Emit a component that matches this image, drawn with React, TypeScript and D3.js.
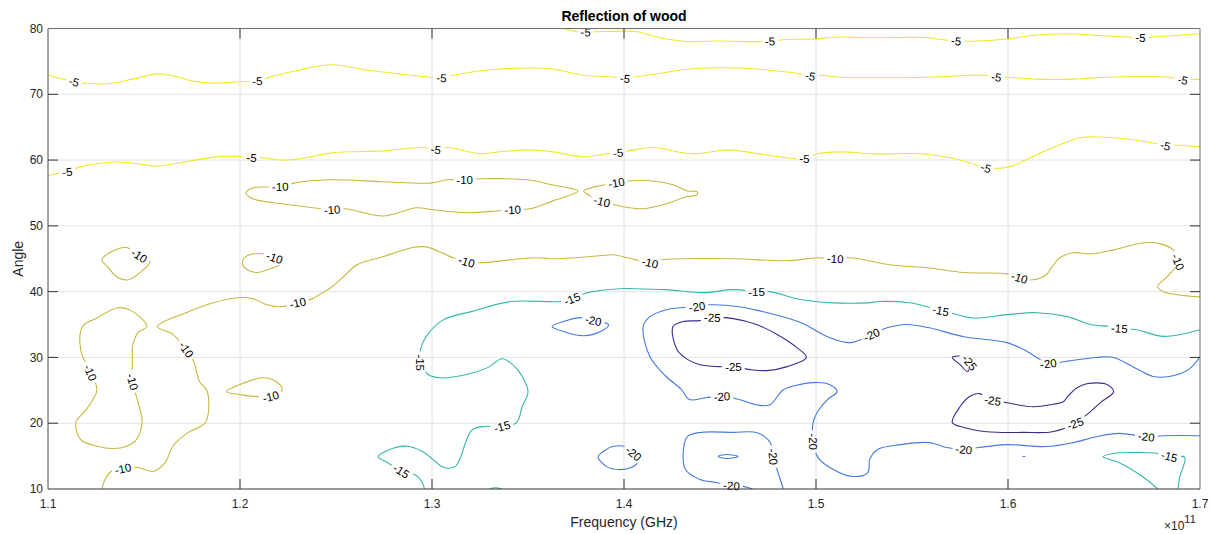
import React from "react";
import * as d3 from "d3";

type Pt = [number, number]; // [frequency in GHz, angle in degrees]

// Axis ticks
const freqTicks = [110, 120, 130, 140, 150, 160, 170];
const angleTicks = [10, 20, 30, 40, 50, 60, 70, 80];

// Contour levels (dB) and their colours
const levels = [-25, -20, -15, -10, -5];
const levelColors = ["#3d2a92", "#4479e0", "#33b8a6", "#c6b83c", "#efe82a"];

// ---- -5 dB isolines ----
const m5Top: Pt[] = [
  [136.8, 80], [137.6, 79.5], [138.0, 79.45], [138.6, 79.5], [140.05, 79.6], [140.7, 79.5], [141.7, 78.7],
  [143.3, 78.0], [144.8, 78.1], [146.9, 78.0], [147.6, 78.05], [148.3, 78.3], [149.8, 78.4], [151.25, 78.7],
  [152.7, 78.6], [155.9, 78.6], [156.3, 78.4], [157.3, 78.1], [158.4, 78.1], [159.95, 78.4], [161.15, 78.9],
  [163.2, 79.2], [164.4, 79.0], [166.2, 78.7], [166.9, 78.6], [167.55, 78.7], [170, 79.2],
];
const m5Mid: Pt[] = [
  [110, 72.9], [110.8, 72.3], [111.35, 71.9], [111.9, 71.7], [113.1, 71.6], [114.4, 72.3], [115.7, 73.1],
  [116.5, 72.8], [117.55, 72.0], [118.6, 71.7], [120.0, 71.9], [120.9, 72.0], [121.4, 72.5], [123.1, 73.7],
  [124.8, 74.5], [126.6, 73.7], [128.3, 73.1], [129.9, 72.6], [130.5, 72.5], [131.1, 72.9], [132.9, 73.7],
  [135.3, 74.0], [136.3, 73.85], [137.9, 72.9], [139.5, 72.6], [140.05, 72.4], [140.5, 72.6], [141.9, 73.2],
  [143.4, 73.85], [146.0, 74.0], [147.45, 73.7], [149.0, 73.2], [149.7, 72.8], [150.2, 72.9], [151.25, 72.6],
  [155.9, 72.6], [158.7, 72.9], [159.4, 72.6], [159.95, 72.6], [161.5, 72.3], [163.4, 72.3], [164.4, 72.5],
  [168.4, 72.6], [169.1, 72.2], [170, 72.3],
];
const m5Low: Pt[] = [
  [110, 57.6], [110.7, 58.1], [111.0, 58.2], [111.7, 59.0], [113.75, 59.7], [115.7, 59.1], [116.9, 59.6],
  [118.3, 60.3], [119.6, 60.6], [120.6, 60.35], [121.2, 60.35], [122.2, 60.0], [123.1, 60.2], [124.8, 61.1],
  [127.45, 61.4], [129.5, 61.9], [130.2, 61.6], [130.8, 61.9], [132.5, 60.95], [133.5, 61.25], [134.95, 61.55],
  [136.3, 61.25], [137.9, 60.5], [139.1, 60.95], [139.7, 61.1], [140.5, 61.55], [141.5, 61.9], [143.6, 60.95],
  [145.4, 61.55], [146.7, 61.1], [148.5, 60.35], [149.4, 60.2], [150.05, 60.95], [151.25, 61.25], [153.0, 60.95],
  [155.4, 60.95], [157.0, 60.35], [158.0, 59.6], [158.85, 58.8], [160.1, 59.0], [161.7, 61.1], [163.75, 63.4],
  [164.6, 63.5], [166.5, 63.1], [167.55, 62.6], [168.2, 62.2], [168.8, 62.3], [170, 62.0],
];
const m5Labels: Pt[] = [
  [138.0, 79.45], [147.6, 78.05], [157.3, 78.1], [166.9, 78.6],
  [111.35, 71.9], [120.9, 72.0], [130.5, 72.5], [140.05, 72.4], [149.7, 72.8], [159.4, 72.6], [169.1, 72.2],
  [111.0, 58.2], [120.6, 60.35], [130.2, 61.6], [139.7, 61.1], [149.4, 60.2], [158.85, 58.8], [168.2, 62.2],
];

// ---- -10 dB isolines ----
const m10LensWest: Pt[] = [
  [120.3, 55.0], [120.7, 55.8], [121.4, 55.9], [122.1, 55.95], [122.8, 56.5], [124.7, 57.0], [127.45, 56.7],
  [129.9, 56.5], [130.8, 57.0], [131.7, 57.0], [132.5, 57.15], [134.95, 57.0], [136.3, 56.2], [137.6, 55.3],
  [136.3, 53.8], [135.1, 52.6], [134.2, 52.45], [133.5, 52.3], [131.8, 52.0], [130.05, 52.45], [129.2, 52.75],
  [127.45, 51.5], [125.5, 52.6], [124.8, 52.45], [123.8, 52.75], [122.2, 53.35], [120.7, 54.1],
];
const m10LensEast: Pt[] = [
  [137.9, 55.3], [138.3, 55.8], [138.75, 56.1], [139.6, 56.55], [140.4, 56.85], [141.35, 56.85], [142.55, 56.25],
  [143.3, 55.3], [143.8, 55.2], [143.8, 54.7], [143.2, 54.4], [142.2, 53.35], [141.0, 52.6], [139.95, 52.9],
  [139.3, 53.35], [138.85, 53.7], [138.2, 54.6],
];
const m10Main: Pt[] = [
  [112.8, 10], [112.97, 11.45], [113.3, 12.7], [113.9, 13.1], [114.6, 13.3], [115.5, 12.7], [116.1, 14.0],
  [116.5, 16.5], [117.3, 18.6], [118.2, 20.1], [118.3, 24.8], [117.9, 26.3], [117.55, 29.7], [117.2, 31.2],
  [116.5, 33.5], [115.7, 34.7], [117.2, 36.8], [118.6, 38.3], [120.0, 39.1], [120.7, 38.9], [121.4, 38.0],
  [122.1, 37.7], [123.0, 38.3], [123.75, 38.9], [124.3, 39.85], [124.8, 40.75], [125.4, 42.3], [126.1, 44.1],
  [127.45, 45.3], [129.0, 46.7], [129.7, 46.8], [130.6, 45.8], [131.1, 45.15], [131.8, 44.55], [132.5, 44.4],
  [135.3, 45.15], [136.5, 45.0], [138.75, 45.45], [139.4, 45.6], [140.2, 45.15], [141.35, 44.4], [142.0, 44.85],
  [145.7, 45.0], [148.5, 44.7], [150.05, 45.15], [151.0, 45.0], [151.8, 45.15], [153.85, 44.1], [155.9, 43.6],
  [157.7, 42.9], [159.95, 42.7], [160.6, 42.1], [161.3, 41.8], [162.0, 42.6], [162.3, 43.8], [162.7, 45.15],
  [163.4, 45.9], [164.4, 45.75], [165.5, 46.35], [167.0, 47.4], [167.9, 47.3], [168.6, 46.35], [168.85, 44.5],
  [168.4, 42.6], [167.8, 40.75], [168.1, 40.0], [170, 39.2],
];
const m10IsleA: Pt[] = [
  [112.8, 44.85], [113.2, 45.9], [114.1, 46.7], [114.75, 45.45], [115.3, 44.55], [114.8, 42.9], [114.2, 41.8],
  [113.65, 42.1], [113.1, 43.8],
];
const m10IsleB: Pt[] = [
  [120.15, 44.85], [120.5, 45.6], [121.2, 45.75], [121.8, 45.15], [122.2, 44.4], [121.4, 43.3], [120.9, 42.9],
  [120.4, 43.3], [120.15, 44.0],
];
const m10IsleC: Pt[] = [
  [111.8, 34.7], [111.7, 31.2], [112.2, 27.7], [112.55, 25.1], [112.0, 22.1], [111.45, 20.1], [111.7, 17.5],
  [112.55, 16.5], [113.4, 16.15], [114.1, 16.5], [114.6, 17.5], [114.9, 20.1], [114.7, 23.1], [114.4, 26.3],
  [114.4, 29.7], [114.4, 31.6], [114.7, 33.8], [115.15, 34.7], [114.4, 37.0], [113.65, 37.55], [112.55, 36.0],
];
const m10IsleD: Pt[] = [
  [119.3, 24.8], [120.0, 25.9], [121.2, 26.9], [121.9, 26.3], [122.2, 25.1], [122.0, 24.35], [121.6, 24.05],
  [120.9, 24.05], [120.0, 24.35],
];
const m10Labels: Pt[] = [
  [122.1, 55.95], [131.7, 57.0], [124.8, 52.45], [134.2, 52.45], [139.6, 56.55], [138.85, 53.7],
  [113.9, 13.1], [117.2, 31.2], [123.0, 38.3], [131.8, 44.55], [141.35, 44.4], [151.0, 45.0], [160.6, 42.1],
  [168.85, 44.5], [114.75, 45.45], [121.8, 45.15], [112.2, 27.7], [114.4, 26.3], [121.6, 24.05],
];

// ---- -15 dB isolines ----
const m15Main: Pt[] = [
  [170, 34.2], [168.1, 33.2], [166.7, 34.2], [165.8, 34.4], [165.3, 34.7], [164.3, 35.0], [163.1, 36.2],
  [161.5, 36.8], [159.95, 36.5], [158.2, 36.0], [157.0, 36.8], [156.5, 37.1], [155.8, 37.7], [154.9, 38.3],
  [153.3, 38.5], [152.7, 38.3], [150.9, 38.3], [149.2, 38.8], [147.6, 40.0], [146.9, 40.0], [145.7, 40.3],
  [144.1, 39.85], [142.2, 40.3], [140.5, 40.45], [139.8, 40.45], [138.1, 39.85], [137.3, 38.9], [136.7, 38.5],
  [134.1, 38.5], [132.1, 37.0], [130.6, 35.75], [129.7, 33.2], [129.4, 31.2], [129.4, 29.2], [129.8, 27.4],
  [130.4, 26.9], [131.8, 27.4], [132.9, 28.45], [133.65, 29.8], [134.2, 28.9], [134.7, 27.1], [135.0, 24.8],
  [134.7, 22.5], [134.4, 20.1], [133.65, 19.5], [132.7, 19.5], [132.1, 19.0], [131.8, 17.5], [131.5, 14.9],
  [131.2, 13.4], [130.6, 13.3], [130.05, 14.5], [129.5, 15.7], [128.7, 16.5], [127.8, 16.0], [127.2, 14.9],
  [127.7, 14.0], [128.4, 12.7], [129.1, 12.2], [129.5, 11.0], [129.6, 10],
];
const m15Corner: Pt[] = [
  [167.8, 10], [167.0, 11.9], [165.8, 14.0], [164.95, 14.9], [165.5, 15.4], [166.5, 15.55], [167.8, 15.4],
  [168.4, 14.95], [169.2, 14.8], [168.95, 11.9], [168.85, 10],
];
const m15Edge: Pt[] = [[133.0, 10], [133.3, 10.2], [133.65, 10]];
const m15Labels: Pt[] = [
  [165.8, 34.4], [156.5, 37.1], [146.9, 40.0], [137.3, 38.9], [129.4, 29.2], [133.65, 19.5], [128.4, 12.7],
  [168.4, 14.95],
];

// ---- -20 dB isolines ----
const m20IsleA: Pt[] = [
  [136.25, 34.7], [137.0, 35.6], [137.7, 36.05], [138.4, 35.6], [139.2, 35.0], [138.75, 33.9], [137.9, 33.3],
  [137.0, 33.8],
];
const m20IsleB: Pt[] = [
  [138.65, 14.9], [139.0, 15.85], [139.4, 16.45], [140.05, 16.45], [140.5, 15.4], [140.7, 14.0], [140.4, 13.3],
  [139.8, 12.95], [139.1, 13.4],
];
const m20Main: Pt[] = [
  [170, 30.1], [169.4, 28.15], [168.4, 27.1], [167.55, 27.1], [166.5, 28.6], [165.5, 30.0], [164.6, 30.0],
  [162.9, 29.35], [162.1, 29.05], [161.5, 30.0], [161.0, 30.9], [159.95, 32.25], [157.7, 33.15], [155.9, 34.5],
  [154.7, 35.0], [153.7, 34.5], [152.9, 33.45], [151.8, 32.25], [150.6, 33.15], [149.2, 35.3], [147.45, 36.8],
  [146.0, 37.7], [144.5, 38.0], [143.8, 37.7], [142.9, 37.55], [142.2, 37.25], [141.35, 36.2], [141.0, 34.7],
  [141.35, 30.1], [142.2, 27.1], [143.0, 25.1], [143.4, 23.6], [144.3, 23.9], [145.1, 24.05], [146.0, 23.6],
  [146.9, 22.8], [147.6, 22.8], [148.3, 25.1], [149.2, 25.9], [150.05, 26.2], [150.7, 25.9], [151.1, 24.8],
  [150.6, 23.6], [150.05, 21.6], [149.85, 20.1], [149.85, 17.2], [150.1, 14.8], [150.9, 12.95], [151.9, 11.9],
  [152.7, 12.5], [152.8, 14.5], [153.2, 16.0], [154.4, 16.75], [155.9, 17.05], [156.8, 16.3], [157.7, 16.0],
  [158.5, 16.3], [159.95, 16.75], [162.0, 16.45], [163.4, 17.05], [164.6, 17.95], [165.8, 18.45], [167.2, 17.95],
  [168.1, 18.1], [170, 18.1],
];
const m20Basin: Pt[] = [
  [146.7, 10], [146.2, 10.4], [145.6, 10.5], [144.8, 11.0], [143.96, 11.45], [143.2, 12.96], [143.1, 16.0],
  [143.3, 17.97], [143.96, 18.6], [145.7, 18.6], [146.9, 18.6], [147.5, 17.5], [147.7, 16.5], [147.76, 14.9],
  [147.97, 12.96], [148.3, 10],
];
const m20Dot: Pt[] = [[144.9, 14.94], [145.36, 15.24], [145.94, 14.94], [145.36, 14.64]];
const m20Speck: Pt[] = [[160.75, 14.95], [160.9, 14.95]];
const m20Labels: Pt[] = [
  [138.4, 35.6], [140.5, 15.4], [162.1, 29.05], [152.9, 33.45], [143.8, 37.7], [145.1, 24.05], [149.85, 17.2],
  [157.7, 16.0], [167.2, 17.95], [145.6, 10.5], [147.76, 14.9],
];

// ---- -25 dB isolines ----
const m25IsleA: Pt[] = [
  [142.55, 34.7], [142.76, 31.2], [143.3, 29.7], [143.96, 28.9], [144.9, 28.6], [145.7, 28.6], [146.56, 28.15],
  [147.45, 28.0], [148.5, 28.6], [149.5, 30.0], [149.0, 31.5], [148.0, 33.45], [146.9, 35.0], [145.7, 35.9],
  [144.6, 36.05], [143.96, 35.6], [143.07, 35.45],
];
const m25IsleB: Pt[] = [[157.1, 30.0], [157.75, 30.1], [158.0, 29.2], [157.9, 27.85], [157.5, 28.9]];
const m25IsleC: Pt[] = [
  [158.5, 24.5], [158.0, 24.05], [157.5, 22.5], [157.1, 20.1], [157.7, 19.35], [158.9, 18.7], [160.8, 18.6],
  [162.3, 18.7], [163.5, 19.95], [164.1, 21.3], [164.8, 23.1], [165.5, 24.8], [165.15, 25.9], [164.1, 26.0],
  [163.6, 25.4], [163.1, 24.05], [162.9, 23.3], [162.2, 22.8], [161.3, 22.5], [159.95, 23.1], [159.2, 23.45],
];
const m25Labels: Pt[] = [[145.7, 28.6], [144.6, 36.05], [158.0, 29.2], [163.5, 19.95], [159.2, 23.45]];

type Contour = { level: number; closed: boolean; pts: Pt[] };
const contours: Contour[] = [
  { level: -5, closed: false, pts: m5Top },
  { level: -5, closed: false, pts: m5Mid },
  { level: -5, closed: false, pts: m5Low },
  { level: -10, closed: true, pts: m10LensWest },
  { level: -10, closed: true, pts: m10LensEast },
  { level: -10, closed: false, pts: m10Main },
  { level: -10, closed: true, pts: m10IsleA },
  { level: -10, closed: true, pts: m10IsleB },
  { level: -10, closed: true, pts: m10IsleC },
  { level: -10, closed: true, pts: m10IsleD },
  { level: -15, closed: false, pts: m15Main },
  { level: -15, closed: false, pts: m15Corner },
  { level: -15, closed: false, pts: m15Edge },
  { level: -20, closed: true, pts: m20IsleA },
  { level: -20, closed: true, pts: m20IsleB },
  { level: -20, closed: false, pts: m20Main },
  { level: -20, closed: false, pts: m20Basin },
  { level: -20, closed: true, pts: m20Dot },
  { level: -20, closed: false, pts: m20Speck },
  { level: -25, closed: true, pts: m25IsleA },
  { level: -25, closed: true, pts: m25IsleB },
  { level: -25, closed: true, pts: m25IsleC },
];
const labelSets: [number, Pt[]][] = [
  [-5, m5Labels], [-10, m10Labels], [-15, m15Labels], [-20, m20Labels], [-25, m25Labels],
];

const W = 1212;
const H = 534;
const PLOT = { left: 48, right: 1200, top: 28.5, bottom: 489 };
const FONT = "'Liberation Sans', Arial, Helvetica, sans-serif";
const LABEL_SIZE = 11.5;

export default function App() {
  const x = d3.scaleLinear().domain([110, 170]).range([PLOT.left, PLOT.right]);
  const y = d3.scaleLinear().domain([10, 80]).range([PLOT.bottom, PLOT.top]);
  const color = d3.scaleOrdinal<number, string>().domain(levels).range(levelColors);

  const openLine = d3.line<Pt>().x((d) => x(d[0])).y((d) => y(d[1])).curve(d3.curveCatmullRom.alpha(0.5));
  const closedLine = d3
    .line<Pt>()
    .x((d) => x(d[0]))
    .y((d) => y(d[1]))
    .curve(d3.curveCatmullRomClosed.alpha(0.5));

  // Orient each inline label along the nearest stretch of its own isoline
  const placed = labelSets.flatMap(([level, pts]) =>
    pts.map((at) => {
      const px = x(at[0]);
      const py = y(at[1]);
      let best = Infinity;
      let ang = 0;
      contours
        .filter((c) => c.level === level)
        .forEach((c) => {
          const p = c.pts.map((q) => [x(q[0]), y(q[1])]);
          const n = c.closed ? p.length : p.length - 1;
          for (let i = 0; i < n; i++) {
            const a = p[i];
            const b = p[(i + 1) % p.length];
            const dx = b[0] - a[0];
            const dy = b[1] - a[1];
            const len2 = dx * dx + dy * dy || 1;
            let t = ((px - a[0]) * dx + (py - a[1]) * dy) / len2;
            t = Math.max(0, Math.min(1, t));
            const cx = a[0] + t * dx;
            const cy = a[1] + t * dy;
            const d = (px - cx) ** 2 + (py - cy) ** 2;
            if (d < best) {
              best = d;
              ang = (Math.atan2(dy, dx) * 180) / Math.PI;
            }
          }
        });
      if (ang > 90) ang -= 180;
      if (ang < -90) ang += 180;
      const text = String(level);
      const width = LABEL_SIZE * (0.333 + 0.556 * (text.length - 1));
      return { px, py, ang, text, width };
    })
  );

  const tickLen = 10;
  const innerFreq = freqTicks.slice(1, -1);
  const innerAngle = angleTicks.slice(1, -1);

  return (
    <svg
      width={W}
      height={H}
      style={{ position: "absolute", left: 0, top: 0, background: "#fff" }}
      fontFamily={FONT}
    >
      <defs>
        <clipPath id="plotArea">
          <rect x={PLOT.left} y={PLOT.top} width={PLOT.right - PLOT.left} height={PLOT.bottom - PLOT.top} />
        </clipPath>
        <mask id="labelGaps" maskUnits="userSpaceOnUse" x={0} y={0} width={W} height={H}>
          <rect x={0} y={0} width={W} height={H} fill="#fff" />
          {placed.map((l, i) => (
            <rect
              key={i}
              x={-l.width / 2 - 3}
              y={-5}
              width={l.width + 6}
              height={10}
              fill="#000"
              transform={`translate(${l.px},${l.py}) rotate(${l.ang})`}
            />
          ))}
        </mask>
      </defs>

      <rect x={0} y={0} width={W} height={H} fill="#fff" />

      {/* grid */}
      <g stroke="#e2e2e2" strokeWidth={1}>
        {innerFreq.map((t) => (
          <line key={`gx${t}`} x1={x(t)} x2={x(t)} y1={PLOT.top} y2={PLOT.bottom} />
        ))}
        {innerAngle.map((t) => (
          <line key={`gy${t}`} x1={PLOT.left} x2={PLOT.right} y1={y(t)} y2={y(t)} />
        ))}
      </g>

      {/* isolines */}
      <g clipPath="url(#plotArea)">
        <g mask="url(#labelGaps)" fill="none" strokeWidth={1.1} strokeLinejoin="round">
          {contours.map((c, i) => (
            <path key={i} d={(c.closed ? closedLine(c.pts) : openLine(c.pts)) || ""} stroke={color(c.level)} />
          ))}
        </g>
      </g>

      {/* inline level labels */}
      <g fontSize={LABEL_SIZE} fill="#000" textAnchor="middle">
        {placed.map((l, i) => (
          <text key={i} transform={`translate(${l.px},${l.py}) rotate(${l.ang})`} dy="0.36em">
            {l.text}
          </text>
        ))}
      </g>

      {/* box */}
      <line x1={PLOT.left} x2={PLOT.right} y1={PLOT.top} y2={PLOT.top} stroke="#6e6e6e" />
      <line x1={PLOT.right} x2={PLOT.right} y1={PLOT.top} y2={PLOT.bottom} stroke="#6e6e6e" />
      <line x1={PLOT.left} x2={PLOT.left} y1={PLOT.top} y2={PLOT.bottom} stroke="#4a4a4a" />
      <line x1={PLOT.left} x2={PLOT.right} y1={PLOT.bottom} y2={PLOT.bottom} stroke="#333" />

      {/* ticks */}
      <g stroke="#333" strokeWidth={1}>
        {innerFreq.map((t) => (
          <g key={`tx${t}`}>
            <line x1={x(t)} x2={x(t)} y1={PLOT.bottom} y2={PLOT.bottom - tickLen} />
            <line x1={x(t)} x2={x(t)} y1={PLOT.top} y2={PLOT.top + tickLen} />
          </g>
        ))}
        {innerAngle.map((t) => (
          <g key={`ty${t}`}>
            <line x1={PLOT.left} x2={PLOT.left + tickLen} y1={y(t)} y2={y(t)} />
            <line x1={PLOT.right} x2={PLOT.right - tickLen} y1={y(t)} y2={y(t)} />
          </g>
        ))}
      </g>

      {/* tick labels */}
      <g fontSize={12} fill="#262626">
        {freqTicks.map((t) => (
          <text key={`lx${t}`} x={x(t)} y={508} textAnchor="middle">
            {(t / 100).toFixed(1)}
          </text>
        ))}
        {angleTicks.map((t) => (
          <text key={`ly${t}`} x={43} y={y(t)} dy="0.35em" textAnchor="end">
            {t}
          </text>
        ))}
        <text x={1164} y={530}>
          ×10
          <tspan dy={-7} fontSize={11}>
            11
          </tspan>
        </text>
      </g>

      {/* titles */}
      <text x={(PLOT.left + PLOT.right) / 2} y={21} textAnchor="middle" fontSize={14} fontWeight="bold" fill="#000">
        Reflection of wood
      </text>
      <text x={(PLOT.left + PLOT.right) / 2} y={527} textAnchor="middle" fontSize={14} fill="#262626">
        Frequency (GHz)
      </text>
      <text
        transform={`translate(22.5,${(PLOT.top + PLOT.bottom) / 2}) rotate(-90)`}
        textAnchor="middle"
        fontSize={14}
        fill="#262626"
      >
        Angle
      </text>
    </svg>
  );
}
